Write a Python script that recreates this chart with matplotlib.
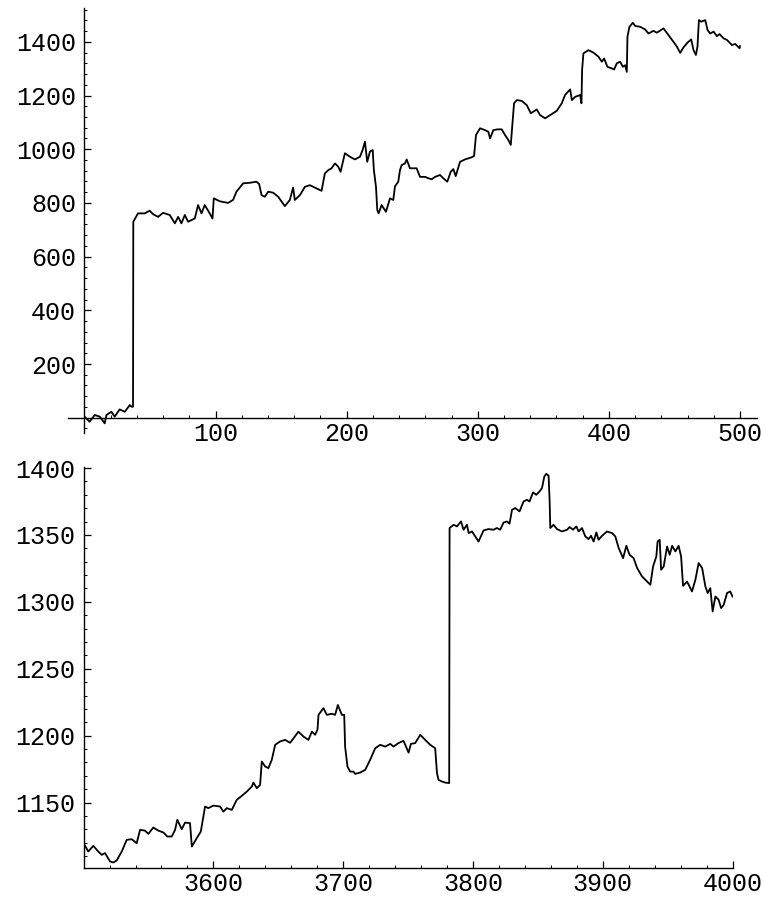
import numpy as np
import matplotlib
matplotlib.use("Agg")
import matplotlib.pyplot as plt
from matplotlib.ticker import MultipleLocator, FixedLocator

plt.rcParams['font.family'] = ['Liberation Mono', 'DejaVu Sans Mono']
plt.rcParams['font.size'] = 18

# first 500 steps of the series
top_x = [0.5, 4, 7.9, 11.7, 15.5, 16.8, 20.6, 23.1, 26.9, 30.8, 34.6, 35.9, 37.1,
         37.3, 40.9, 46, 49.8, 52.4, 56.2, 60, 65.1, 69, 71.5, 74, 76.6, 79.1,
         84.2, 86.7, 89.3, 91.8, 95.6, 97.7, 98.7, 103.3, 109.6, 113.4, 116,
         121.1, 126.2, 131.3, 133.3, 135.1, 137.6, 140.2, 144, 147.8, 152.9,
         156.7, 159.2, 160.5, 164.4, 168.2, 172, 177.1, 180.9, 183.4, 186,
         188.5, 191.1, 193.6, 195.4, 198.7, 202.5, 206.3, 210.2, 212.2, 214,
         215.7, 217.8, 219.9, 220.8, 222.4, 223.4, 224.4, 226.7, 230, 233.1,
         235.6, 236.9, 239.4, 240.7, 242, 244.5, 245.8, 248.3, 253.4, 256,
         259.8, 262.3, 264.9, 267.4, 271.2, 273.7, 276.8, 279.4, 281.4, 283.2,
         286.5, 290.3, 295.4, 297.2, 298.7, 301.8, 305.6, 308.1, 309.4, 311.9,
         315, 318.3, 320.8, 323.4, 325.2, 327.7, 329.8, 333.6, 337.4, 340.5,
         345, 347.6, 351.4, 355.2, 360.3, 364.1, 366.6, 370.5, 371.8, 374.3,
         378.1, 379.1, 379.6, 380.6, 384.4, 388.2, 392, 394.7, 396.4, 398.9,
         402.3, 404, 406.1, 408.6, 410.7, 412.4, 413.7, 414.2, 415.7, 418.3,
         420.1, 423.9, 427.7, 430.2, 434, 436.6, 441.7, 445.5, 449.3, 451.9,
         454.4, 456.9, 460, 462.8, 464.6, 466.4, 467.6, 468.7, 470.5, 473.5,
         475.3, 477.3, 479.9, 482.4, 484.4, 487.5, 490.1, 493.9, 496.4, 499.7,
         500]
top_y = [2, -15, 10, 4, -21, 10, 22, 4, 31, 22, 47, 41, 41,
         730, 761, 761, 771, 758, 748, 763, 755, 724, 748, 724, 755, 730,
         742, 792, 761, 792, 761, 742, 817, 806, 800, 811, 842,
         873, 875, 879, 870, 829, 823, 842, 838, 823, 788,
         811, 857, 811, 829, 860, 866, 854, 845, 910, 922,
         929, 947, 935, 916, 985, 972, 962, 972, 997, 1028,
         953, 991, 997, 922, 860, 773, 761, 792, 767, 817,
         811, 862, 879, 922, 941, 947, 962, 929, 929, 897,
         897, 892, 888, 897, 904, 892, 879, 916, 926, 900,
         953, 962, 970, 975, 1053, 1078, 1071, 1065, 1040, 1071,
         1074, 1074, 1053, 1034, 1016, 1171, 1183, 1180, 1164, 1134,
         1148, 1127, 1115, 1127, 1143, 1171, 1202, 1223, 1183, 1195,
         1202, 1171, 1295, 1357, 1369, 1360, 1345, 1326, 1338, 1307,
         1301, 1297, 1320, 1326, 1307, 1313, 1288, 1419, 1456, 1471,
         1459, 1456, 1446, 1431, 1441, 1434, 1450, 1425, 1400, 1382,
         1359, 1379, 1397, 1409, 1369, 1351, 1382, 1481, 1475, 1481,
         1444, 1431, 1438, 1421, 1429, 1413, 1407, 1388, 1392, 1376,
         1384]

# steps 3500 to 4000
bot_x = [3501, 3503.6, 3507.5, 3511.3, 3514, 3516.5, 3520.4, 3522.9, 3525.5,
         3529.4, 3533.2, 3537.1, 3540.9, 3543.5, 3547.3, 3549.9, 3553.7,
         3557.6, 3561.5, 3564.5, 3567.9, 3570.5, 3572.2, 3575.6, 3578.2, 3582,
         3583.4, 3587.2, 3590.3, 3593.6, 3596.1, 3600, 3605.2, 3607.7, 3610.3,
         3614.2, 3618, 3621.9, 3625.8, 3629.6, 3630.8, 3633.5, 3636, 3637.3,
         3639.9, 3642.4, 3645, 3647.6, 3651.4, 3655.3, 3659.1, 3661.7, 3665.5,
         3669.4, 3673.2, 3675.9, 3678.4, 3680.2, 3681, 3684.8, 3687.4, 3691.3,
         3693.8, 3695.9, 3699, 3700.8, 3701.5, 3703.3, 3705.4, 3707.9, 3709.3,
         3713.1, 3717, 3720.8, 3724.7, 3728.6, 3732.4, 3736.3, 3738.8, 3742.6,
         3746.5, 3750.4, 3752.2, 3755.5, 3759.4, 3763.2, 3767.1, 3770.9,
         3772.3, 3773.5, 3776.1, 3778.6, 3781.7, 3782, 3785.1, 3787.7, 3790.8,
         3792.8, 3795.4, 3796.7, 3799.3, 3801.8, 3804.3, 3808.2, 3812, 3815.9,
         3818.5, 3821, 3823.6, 3826.2, 3828.2, 3830.1, 3832.6, 3835.9, 3839,
         3841.6, 3843.6, 3846.3, 3848.8, 3851.3, 3853.2, 3855, 3856.5, 3858.3,
         3859.1, 3859.6, 3862.1, 3864.8, 3868.6, 3872.5, 3874.5, 3877.1,
         3879.7, 3881.4, 3884, 3886.6, 3889.1, 3891, 3893, 3895.1, 3896.8,
         3899.5, 3903.3, 3907.2, 3909.7, 3912.3, 3915.7, 3918.2, 3920.7,
         3923.8, 3926.5, 3930.3, 3934.2, 3936.7, 3938.8, 3941.3, 3942.3,
         3943.9, 3945, 3947, 3949.6, 3951.6, 3953.5, 3956, 3958.5, 3960.4,
         3961.9, 3965, 3968.8, 3971.4, 3973.9, 3976.6, 3979.1, 3980.9, 3982.9,
         3984.7, 3986.8, 3989.3, 3991.2, 3993.2, 3995.8, 3998.3, 4000]
bot_y = [1118, 1113.5, 1117.7, 1113.5, 1111, 1112.3, 1106, 1105.3, 1106.8,
         1113.5, 1122.2, 1122.7, 1119.7, 1129.7, 1129.1, 1126.7, 1131.4,
         1129.1, 1127.7, 1124.7, 1124.7, 1129.7, 1137.2, 1130.2, 1135.1, 1134.7,
         1117.2, 1123.5, 1128.4, 1147.1, 1145.9, 1147.8, 1147.1, 1143.3, 1145.9,
         1144.6, 1152.1, 1155.1, 1158.3, 1162, 1165, 1160.8, 1163.3, 1180.7,
         1177, 1175.8, 1182, 1193.2, 1195.7, 1196.9, 1194.7, 1198, 1203,
         1199.4, 1196.9, 1203.1, 1200.7, 1204.4, 1215.6, 1220.6, 1215.6, 1216.4,
         1215.6, 1223, 1215.6, 1215.6, 1191.9, 1177, 1173.2, 1173.2, 1171.5,
         1172.5, 1174.5, 1182, 1190.7, 1193.2, 1191.9, 1193.9, 1191.9, 1194.5,
         1196.2, 1187.4, 1193.9, 1194.5, 1200.7, 1196.9, 1193.2, 1190.7,
         1172, 1167, 1165.8, 1165, 1164.6, 1355.2, 1357.6, 1356.4, 1360.1,
         1353.9, 1357.6, 1351.4, 1352.6, 1348.9, 1345.1, 1353.4, 1354.4, 1353.9,
         1355.2, 1353.9, 1359.3, 1360.1, 1358.4, 1368.8, 1370.1, 1367.6, 1375,
         1376.3, 1375, 1381.8, 1380, 1382.5, 1385, 1393.7, 1395.7, 1394.2,
         1375, 1355.2, 1357.6, 1354.4, 1352.6, 1353.9, 1355.9, 1353.9,
         1356.4, 1352.6, 1355.2, 1348.9, 1346.9, 1349.4, 1345.1, 1351.9, 1346.4,
         1349.4, 1352.6, 1351.4, 1348.9, 1340.2, 1332.7, 1341.9, 1335.2,
         1332.7, 1325.3, 1319, 1315.2, 1312.8, 1326.5, 1333.9, 1345.1,
         1346.4, 1324, 1326.5, 1341.4, 1335.2, 1341.9, 1337.7, 1341.9, 1333.9,
         1312, 1315.2, 1307.8, 1316.5, 1329, 1325.3, 1311.5, 1306.6, 1310.3,
         1292.8, 1304, 1301.6, 1295.4, 1297.8, 1306.6, 1307.8, 1304]

W, H = 764, 898
fig = plt.figure(figsize=(W / 100, H / 100), dpi=100)


def px_axes(x0, x1, y0, y1):
    # axes box given in pixel coords (top-left origin)
    return fig.add_axes([x0 / W, 1 - y1 / H, (x1 - x0) / W, (y1 - y0) / H])


def style(ax):
    for s in ('top', 'right'):
        ax.spines[s].set_visible(False)
    for s in ('left', 'bottom'):
        ax.spines[s].set_linewidth(1.0)
    ax.tick_params(which='major', direction='in', length=5, width=0.9)
    ax.tick_params(which='minor', direction='in', length=2.5, width=0.7)
    ax.tick_params(axis='y', which='major', pad=6)
    ax.tick_params(axis='x', which='major', pad=3)


# --- top: whole run from the start ---
ax1 = px_axes(68, 757, 8, 433)
ax1.plot(top_x, top_y, color='black', lw=1.3)
ax1.set_xlim(-12.5, 513)
ax1.set_ylim(-57, 1526)
ax1.spines['left'].set_position(('data', 0))
ax1.spines['bottom'].set_position(('data', 0))
style(ax1)
ax1.xaxis.set_major_locator(FixedLocator([100, 200, 300, 400, 500]))
ax1.xaxis.set_minor_locator(MultipleLocator(20))
ax1.yaxis.set_major_locator(FixedLocator([200, 400, 600, 800, 1000, 1200, 1400]))
ax1.yaxis.set_minor_locator(MultipleLocator(40))

# --- bottom: close-up of the late part ---
ax2 = px_axes(83.6, 732.5, 466.7, 867.7)
ax2.plot(bot_x, bot_y, color='black', lw=1.3)
ax2.set_xlim(3500, 4000)
ax2.set_ylim(1101.4, 1401)
style(ax2)
ax2.xaxis.set_major_locator(FixedLocator([3600, 3700, 3800, 3900, 4000]))
ax2.xaxis.set_minor_locator(MultipleLocator(20))
ax2.yaxis.set_major_locator(FixedLocator([1150, 1200, 1250, 1300, 1350, 1400]))
ax2.yaxis.set_minor_locator(MultipleLocator(10))

fig.savefig('out.png', dpi=100)
